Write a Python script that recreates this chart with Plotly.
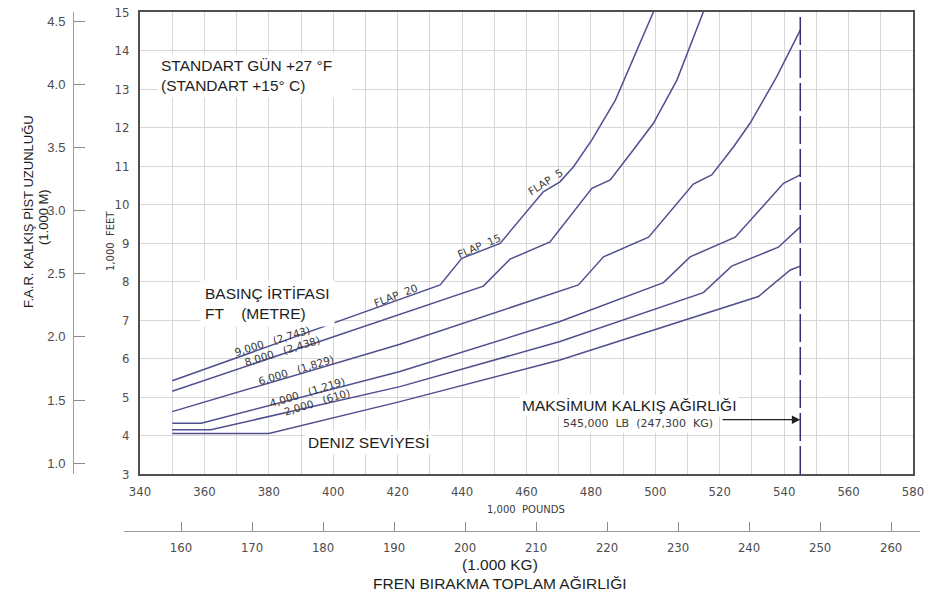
import plotly.graph_objects as go

# ---------------------------------------------------------------------------
# Takeoff field length chart, standard day +27 °F (+15 °C)
# Weights in 1,000 lb, field length in 1,000 ft
# ---------------------------------------------------------------------------

W_9000 = [350, 433.2, 439.9, 451.8, 465.2, 470.4, 474.6, 480.3, 487.6, 499.4]
L_9000 = [5.42, 7.91, 8.60, 8.99, 10.33, 10.59, 10.98, 11.68, 12.71, 15.0]

W_8000 = [350, 446.6, 454.9, 467.3, 480.3, 486.0, 493.2, 499.4, 506.7, 514.9]
L_8000 = [5.15, 7.88, 8.58, 9.03, 10.42, 10.64, 11.42, 12.11, 13.23, 15.0]

W_6000 = [350, 420.7, 476.1, 483.9, 497.9, 511.8, 517.5, 524.3, 529.4, 537.7, 545.0]
L_6000 = [4.62, 6.37, 7.91, 8.64, 9.15, 10.53, 10.77, 11.50, 12.11, 13.32, 14.53]

W_4000 = [350, 359, 420.7, 470.4, 502.5, 510.8, 524.8, 539.8, 545.0]
L_4000 = [4.32, 4.32, 5.66, 6.96, 7.97, 8.64, 9.15, 10.55, 10.77]

W_2000 = [350, 362, 420.7, 470.4, 514.9, 523.7, 538.2, 545.0]
L_2000 = [4.15, 4.15, 5.27, 6.44, 7.71, 8.40, 8.89, 9.42]

W_SL = [350, 380, 420.7, 470.4, 532.0, 541.9, 545.0]
L_SL = [4.05, 4.05, 4.88, 5.96, 7.61, 8.30, 8.40]

CURVES = [(W_9000, L_9000), (W_8000, L_8000), (W_6000, L_6000),
          (W_4000, L_4000), (W_2000, L_2000), (W_SL, L_SL)]

ALT_FT = ["9,000", "8,000", "6,000", "4,000", "2,000"]
ALT_M = ["2,743", "2,438", "1,829", "1,219", "610"]
FLAPS = ["FLAP  20", "FLAP  15", "FLAP  5"]

MAX_TOW_KLB = 545
MAX_TOW_KKG = 247.3

X_TICKS = list(range(340, 581, 20))
Y_TICKS = list(range(3, 16))
M_TICKS = [1.0, 1.5, 2.0, 2.5, 3.0, 3.5, 4.0, 4.5]
KG_TICKS = list(range(160, 261, 10))

X_RANGE = [340, 580]
Y_RANGE = [3, 15]
LB_PER_KG = 2.20462
FT_PER_M = 3.28084

# ---------------------------------------------------------------------------
# page geometry (pixels)
W, H = 926, 593
ML, MR, MT, MB = 73, 6, 12, 62
PW = W - ML - MR
PH = H - MT - MB
FRAME_L, FRAME_R, FRAME_B = 140, 913, 474
KG_LINE_L = 124


def px_x(px):
    return (px - ML) / PW


def px_y(py):
    return (H - MB - py) / PH


lb_per_px = (X_RANGE[1] - X_RANGE[0]) / (FRAME_R - FRAME_L)
kg_range = [(X_RANGE[0] - (FRAME_L - KG_LINE_L) * lb_per_px) / LB_PER_KG,
            (X_RANGE[1] + (W - MR - FRAME_R) * lb_per_px) / LB_PER_KG]

LINE = "#4f4f8f"
GRID = "#d6d6d6"
FRAME = "#505050"
TICK = "#4d4d4d"
TEXT = "#1e1e1e"
CAD = "#3a3a3a"
SANS = "Liberation Sans, Arial, sans-serif"
NARROW = "Liberation Sans Narrow, Arial Narrow, DejaVu Sans Condensed, sans-serif"
STROKE = "DejaVu Sans, sans-serif"
NB = "\u00a0"

fig = go.Figure()

for w, l in CURVES:
    fig.add_trace(go.Scatter(x=w, y=l, mode="lines",
                             line=dict(color=LINE, width=1.5),
                             hoverinfo="skip", showlegend=False))

# maximum takeoff weight limit
fig.add_trace(go.Scatter(x=[MAX_TOW_KLB, MAX_TOW_KLB], y=Y_RANGE, mode="lines",
                         line=dict(color="#2f2f7a", width=1.5, dash="28px,5px"),
                         hoverinfo="skip", showlegend=False))

# carriers for the metre and kilogram scales
fig.add_trace(go.Scatter(x=[None], y=[None], xaxis="x", yaxis="y2",
                         showlegend=False, hoverinfo="skip"))
fig.add_trace(go.Scatter(x=[None], y=[None], xaxis="x2", yaxis="y3",
                         showlegend=False, hoverinfo="skip"))

ann = []

# altitude labels along the curves
ALT_POS = [(380.9, 6.46), (384.0, 6.20), (388.4, 5.70), (392.0, 5.14), (394.9, 4.86)]
for (x, y), ft, m in zip(ALT_POS, ALT_FT, ALT_M):
    ann.append(dict(x=x, y=y, xref="x", yref="y", showarrow=False,
                    text=f"{ft}{NB * 3}({m})", textangle=-17,
                    font=dict(family=STROKE, size=10.5, color=CAD)))

FLAP_POS = [(419.6, 7.64, -21), (445.2, 8.93, -23), (465.8, 10.58, -33)]
for (x, y, a), t in zip(FLAP_POS, FLAPS):
    ann.append(dict(x=x, y=y, xref="x", yref="y", showarrow=False,
                    text=t.replace(" ", NB), textangle=a,
                    font=dict(family=STROKE, size=10.5, color=CAD)))

# boxed notes
ann.append(dict(x=345.3, y=13.36, xref="x", yref="y", xanchor="left", yanchor="middle",
                showarrow=False, align="left", width=188, bgcolor="white", borderpad=3,
                text="STANDART GÜN +27 °F<br>(STANDART +15° C)",
                font=dict(family=SANS, size=15.5, color=TEXT)))
ann.append(dict(x=358.6, y=7.44, xref="x", yref="y", xanchor="left", yanchor="middle",
                showarrow=False, align="left", bgcolor="white", borderpad=4,
                text=f"BASINÇ İRTİFASI<br>FT{NB * 4}(METRE)",
                font=dict(family=SANS, size=15.5, color=TEXT)))
ann.append(dict(x=410.8, y=3.83, xref="x", yref="y", showarrow=False,
                bgcolor="white", borderpad=3, text="DENIZ SEVİYESİ",
                font=dict(family=SANS, size=15.5, color=TEXT)))
ann.append(dict(x=491.8, y=4.79, xref="x", yref="y", showarrow=False,
                bgcolor="white", borderpad=2, text="MAKSİMUM KALKIŞ AĞIRLIĞI",
                font=dict(family=SANS, size=15.5, color=TEXT)))
ann.append(dict(x=494.6, y=4.32, xref="x", yref="y", showarrow=False,
                bgcolor="white", borderpad=2,
                text=(f"{MAX_TOW_KLB * 1000:,}{NB * 2}LB{NB * 2}"
                      f"({MAX_TOW_KKG * 1000:,.0f}{NB * 2}KG)"),
                font=dict(family=STROKE, size=11, color=CAD)))
ann.append(dict(x=MAX_TOW_KLB, y=4.41, ax=520.4, ay=4.41, xref="x", yref="y",
                axref="x", ayref="y", text="", showarrow=True, arrowhead=2,
                arrowsize=1.4, arrowwidth=1.2, arrowcolor="#222222", standoff=0))


# axis captions (paper-positioned, centred on the given point)
def caption(px, py, text, font, angle=0):
    ann.append(dict(x=px_x(px), y=px_y(py), xref="paper", yref="paper",
                    xanchor="center", yanchor="middle", showarrow=False,
                    text=text, textangle=angle, font=font))


caption(110, 241, f"1,000{NB * 2}FEET", dict(family=STROKE, size=10, color=CAD), -90)
caption(29, 212, "F.A.R. KALKIŞ PİST UZUNLUĞU", dict(family=SANS, size=13, color=TEXT), -90)
caption(43, 217, "(1.000 M)", dict(family=SANS, size=13, color=TEXT), -90)
caption(526, 509, f"1,000{NB * 2}POUNDS", dict(family=STROKE, size=10, color=CAD))
caption(500, 564, "(1.000 KG)", dict(family=SANS, size=15.5, color=TEXT))
caption(500, 583, "FREN BIRAKMA TOPLAM AĞIRLIĞI", dict(family=SANS, size=15.5, color=TEXT))

fig.update_layout(
    width=W, height=H, autosize=False,
    margin=dict(l=ML, r=MR, t=MT, b=MB, pad=0, autoexpand=False),
    paper_bgcolor="white", plot_bgcolor="white",
    showlegend=False,
    annotations=ann,
    xaxis=dict(domain=[px_x(FRAME_L), px_x(FRAME_R)], range=X_RANGE, anchor="y",
               automargin=False,
               tickvals=X_TICKS, ticks="", showline=True, mirror=True,
               linecolor=FRAME, linewidth=2, showgrid=True, gridcolor=GRID,
               gridwidth=1, zeroline=False, ticklabelstandoff=4,
               minor=dict(tick0=340, dtick=10, showgrid=True, gridcolor=GRID, gridwidth=1),
               tickfont=dict(family=NARROW, size=13, color=TICK)),
    yaxis=dict(domain=[px_y(FRAME_B), 1], range=Y_RANGE, anchor="x",
               automargin=False,
               tickvals=Y_TICKS, ticks="", showline=True, mirror=True,
               linecolor=FRAME, linewidth=2, showgrid=True, gridcolor=GRID,
               gridwidth=1, zeroline=False, ticklabelstandoff=6,
               tickfont=dict(family=NARROW, size=13, color=TICK)),
    yaxis2=dict(overlaying="y", anchor="free", position=0, side="left",
                automargin=False,
                range=[Y_RANGE[0] / FT_PER_M, Y_RANGE[1] / FT_PER_M],
                tickvals=M_TICKS, ticktext=[f"{v:.1f}" for v in M_TICKS],
                ticks="inside", ticklen=11, tickcolor="#8a8a8a", tickwidth=1,
                showline=True, linecolor="#9a9a9a", linewidth=1,
                showgrid=False, zeroline=False, ticklabelstandoff=5,
                tickfont=dict(family=SANS, size=13, color=TICK)),
    xaxis2=dict(domain=[px_x(KG_LINE_L), 1], anchor="free", position=0, side="bottom",
                automargin=False,
                range=kg_range, tickvals=KG_TICKS,
                ticks="inside", ticklen=9, tickcolor="#8a8a8a", tickwidth=1,
                showline=True, linecolor="#9a9a9a", linewidth=1,
                showgrid=False, zeroline=False, ticklabelstandoff=4,
                tickfont=dict(family=NARROW, size=13, color=TICK)),
    yaxis3=dict(domain=[0, 0.001], anchor="x2", visible=False, automargin=False),
)

fig.write_html("out.html")
